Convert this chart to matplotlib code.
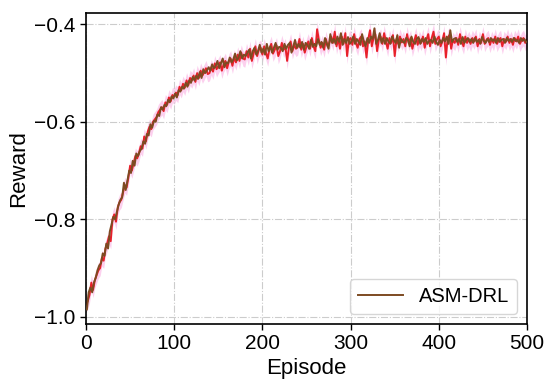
import numpy as np
import matplotlib
matplotlib.use('Agg')
import matplotlib.pyplot as plt

# 奖励曲线 (偶数回合, 红线)
red_reward = [
    -0.975, -0.968, -0.955, -0.930, -0.945, -0.925, -0.915, -0.905, -0.900, -0.880,
    -0.885, -0.860, -0.850, -0.835, -0.845, -0.800, -0.790, -0.805, -0.775, -0.765,
    -0.760, -0.745, -0.730, -0.735, -0.715, -0.690, -0.700, -0.685, -0.670, -0.675,
    -0.665, -0.650, -0.655, -0.630, -0.640, -0.620, -0.610, -0.615, -0.600, -0.595,
    -0.590, -0.580, -0.575, -0.570, -0.578, -0.560, -0.565, -0.550, -0.558, -0.545,
    -0.548, -0.540, -0.545, -0.528, -0.535, -0.522, -0.530, -0.515, -0.525, -0.510,
    -0.515, -0.505, -0.518, -0.500, -0.510, -0.495, -0.505, -0.498, -0.490, -0.502,
    -0.500, -0.488, -0.497, -0.480, -0.492, -0.485, -0.478, -0.495, -0.482, -0.475,
    -0.490, -0.476, -0.470, -0.485, -0.468, -0.478, -0.462, -0.475, -0.458, -0.470,
    -0.472, -0.455, -0.468, -0.450, -0.475, -0.460, -0.445, -0.465, -0.452, -0.448,
    -0.462, -0.445, -0.458, -0.470, -0.450, -0.440, -0.460, -0.452, -0.443, -0.465,
    -0.455, -0.438, -0.452, -0.445, -0.475, -0.448, -0.435, -0.455, -0.442, -0.450,
    -0.447, -0.430, -0.452, -0.440, -0.458, -0.445, -0.435, -0.450, -0.428, -0.445,
    -0.455, -0.410, -0.432, -0.448, -0.438, -0.452, -0.430, -0.445, -0.437, -0.425,
    -0.438, -0.415, -0.445, -0.430, -0.450, -0.425, -0.440, -0.418, -0.465, -0.432,
    -0.428, -0.442, -0.420, -0.438, -0.448, -0.430, -0.425, -0.445, -0.435, -0.468,
    -0.430, -0.412, -0.445, -0.428, -0.420, -0.455, -0.432, -0.425, -0.440, -0.418,
    -0.435, -0.450, -0.428, -0.438, -0.422, -0.465, -0.430, -0.440, -0.425, -0.437,
    -0.430, -0.445, -0.420, -0.438, -0.428, -0.450, -0.435, -0.422, -0.442, -0.430,
    -0.438, -0.425, -0.448, -0.432, -0.420, -0.445, -0.428, -0.415, -0.440, -0.430,
    -0.425, -0.445, -0.435, -0.418, -0.468, -0.428, -0.422, -0.450, -0.432, -0.438,
    -0.428, -0.442, -0.420, -0.435, -0.445, -0.425, -0.438, -0.430, -0.440, -0.428,
    -0.435, -0.425, -0.445, -0.430, -0.438, -0.420, -0.440, -0.432, -0.428, -0.442,
    -0.430, -0.438, -0.425, -0.440, -0.432, -0.428, -0.445, -0.430, -0.436, -0.425,
    -0.438, -0.430, -0.442, -0.428, -0.435, -0.425, -0.440, -0.432, -0.428, -0.438,
    -0.432,
]

# 奖励曲线 (奇数回合, 棕线)
brown_reward = [
    -0.985, -0.950, -0.940, -0.950, -0.930, -0.920, -0.905, -0.895, -0.890, -0.870,
    -0.875, -0.850, -0.860, -0.825, -0.810, -0.795, -0.800, -0.785, -0.770, -0.760,
    -0.755, -0.725, -0.740, -0.720, -0.700, -0.705, -0.680, -0.690, -0.665, -0.670,
    -0.660, -0.655, -0.640, -0.645, -0.625, -0.628, -0.605, -0.612, -0.598, -0.600,
    -0.585, -0.588, -0.570, -0.575, -0.565, -0.568, -0.555, -0.560, -0.548, -0.552,
    -0.542, -0.550, -0.535, -0.538, -0.528, -0.532, -0.520, -0.528, -0.515, -0.520,
    -0.508, -0.515, -0.505, -0.512, -0.498, -0.510, -0.492, -0.500, -0.495, -0.488,
    -0.495, -0.482, -0.490, -0.486, -0.475, -0.490, -0.480, -0.470, -0.488, -0.478,
    -0.480, -0.468, -0.478, -0.472, -0.460, -0.474, -0.468, -0.455, -0.470, -0.462,
    -0.465, -0.458, -0.452, -0.470, -0.455, -0.448, -0.462, -0.455, -0.442, -0.458,
    -0.450, -0.462, -0.440, -0.455, -0.445, -0.458, -0.448, -0.438, -0.452, -0.446,
    -0.448, -0.455, -0.440, -0.450, -0.442, -0.438, -0.458, -0.445, -0.432, -0.448,
    -0.440, -0.448, -0.436, -0.452, -0.438, -0.442, -0.450, -0.432, -0.446, -0.440,
    -0.445, -0.430, -0.442, -0.436, -0.448, -0.428, -0.440, -0.450, -0.420, -0.438,
    -0.430, -0.440, -0.425, -0.436, -0.418, -0.442, -0.430, -0.438, -0.426, -0.440,
    -0.435, -0.425, -0.440, -0.430, -0.436, -0.442, -0.420, -0.435, -0.445, -0.428,
    -0.438, -0.425, -0.430, -0.408, -0.440, -0.432, -0.418, -0.438, -0.428, -0.440,
    -0.428, -0.436, -0.440, -0.425, -0.432, -0.438, -0.422, -0.448, -0.430, -0.435,
    -0.438, -0.428, -0.432, -0.445, -0.425, -0.436, -0.440, -0.430, -0.426, -0.440,
    -0.430, -0.436, -0.428, -0.440, -0.434, -0.432, -0.438, -0.425, -0.436, -0.442,
    -0.432, -0.438, -0.428, -0.435, -0.425, -0.440, -0.412, -0.436, -0.430, -0.428,
    -0.436, -0.430, -0.440, -0.426, -0.438, -0.432, -0.428, -0.436, -0.430, -0.438,
    -0.428, -0.436, -0.432, -0.440, -0.426, -0.434, -0.438, -0.430, -0.436, -0.428,
    -0.434, -0.430, -0.438, -0.428, -0.436, -0.432, -0.430, -0.438, -0.428, -0.434,
    -0.430, -0.436, -0.428, -0.434, -0.432, -0.438, -0.428, -0.434, -0.430, -0.436,
]

red_ep = np.arange(0, 501, 2)
brown_ep = np.arange(1, 500, 2)

plt.rcParams['font.family'] = ['Liberation Sans', 'DejaVu Sans']
plt.rcParams['axes.unicode_minus'] = True

fig = plt.figure(figsize=(5.5, 3.86), dpi=100)
ax = fig.add_axes([0.1564, 0.1606, 0.8018, 0.8065])

# 阴影带
red_arr = np.array(red_reward)
ax.fill_between(red_ep, red_arr - 0.016, red_arr + 0.016, color='#fcd0ee', lw=0, zorder=1)

ax.plot(red_ep, red_reward, color='#e8202a', lw=1.4, zorder=2)
ax.plot(brown_ep, brown_reward, color='#7d4b22', lw=1.4, zorder=3, label='ASM-DRL')

ax.set_xlim(0, 500)
ax.set_ylim(-1.015, -0.376)
ax.set_xticks([0, 100, 200, 300, 400, 500])
ax.set_yticks([-1.0, -0.8, -0.6, -0.4])
ax.grid(True, linestyle='-.', color='#cccccc', lw=0.8)
ax.tick_params(labelsize=15, length=4, width=1)
ax.set_xlabel('Episode', fontsize=16, labelpad=3)
ax.set_ylabel('Reward', fontsize=16, labelpad=4)
for s in ax.spines.values():
    s.set_linewidth(1.2)
    s.set_color('black')

leg = ax.legend(loc='lower right', fontsize=14.5, handlelength=2.2, borderpad=0.4,
                fancybox=True, framealpha=0.8)

plt.savefig('out.png', dpi=100)
plt.close()
